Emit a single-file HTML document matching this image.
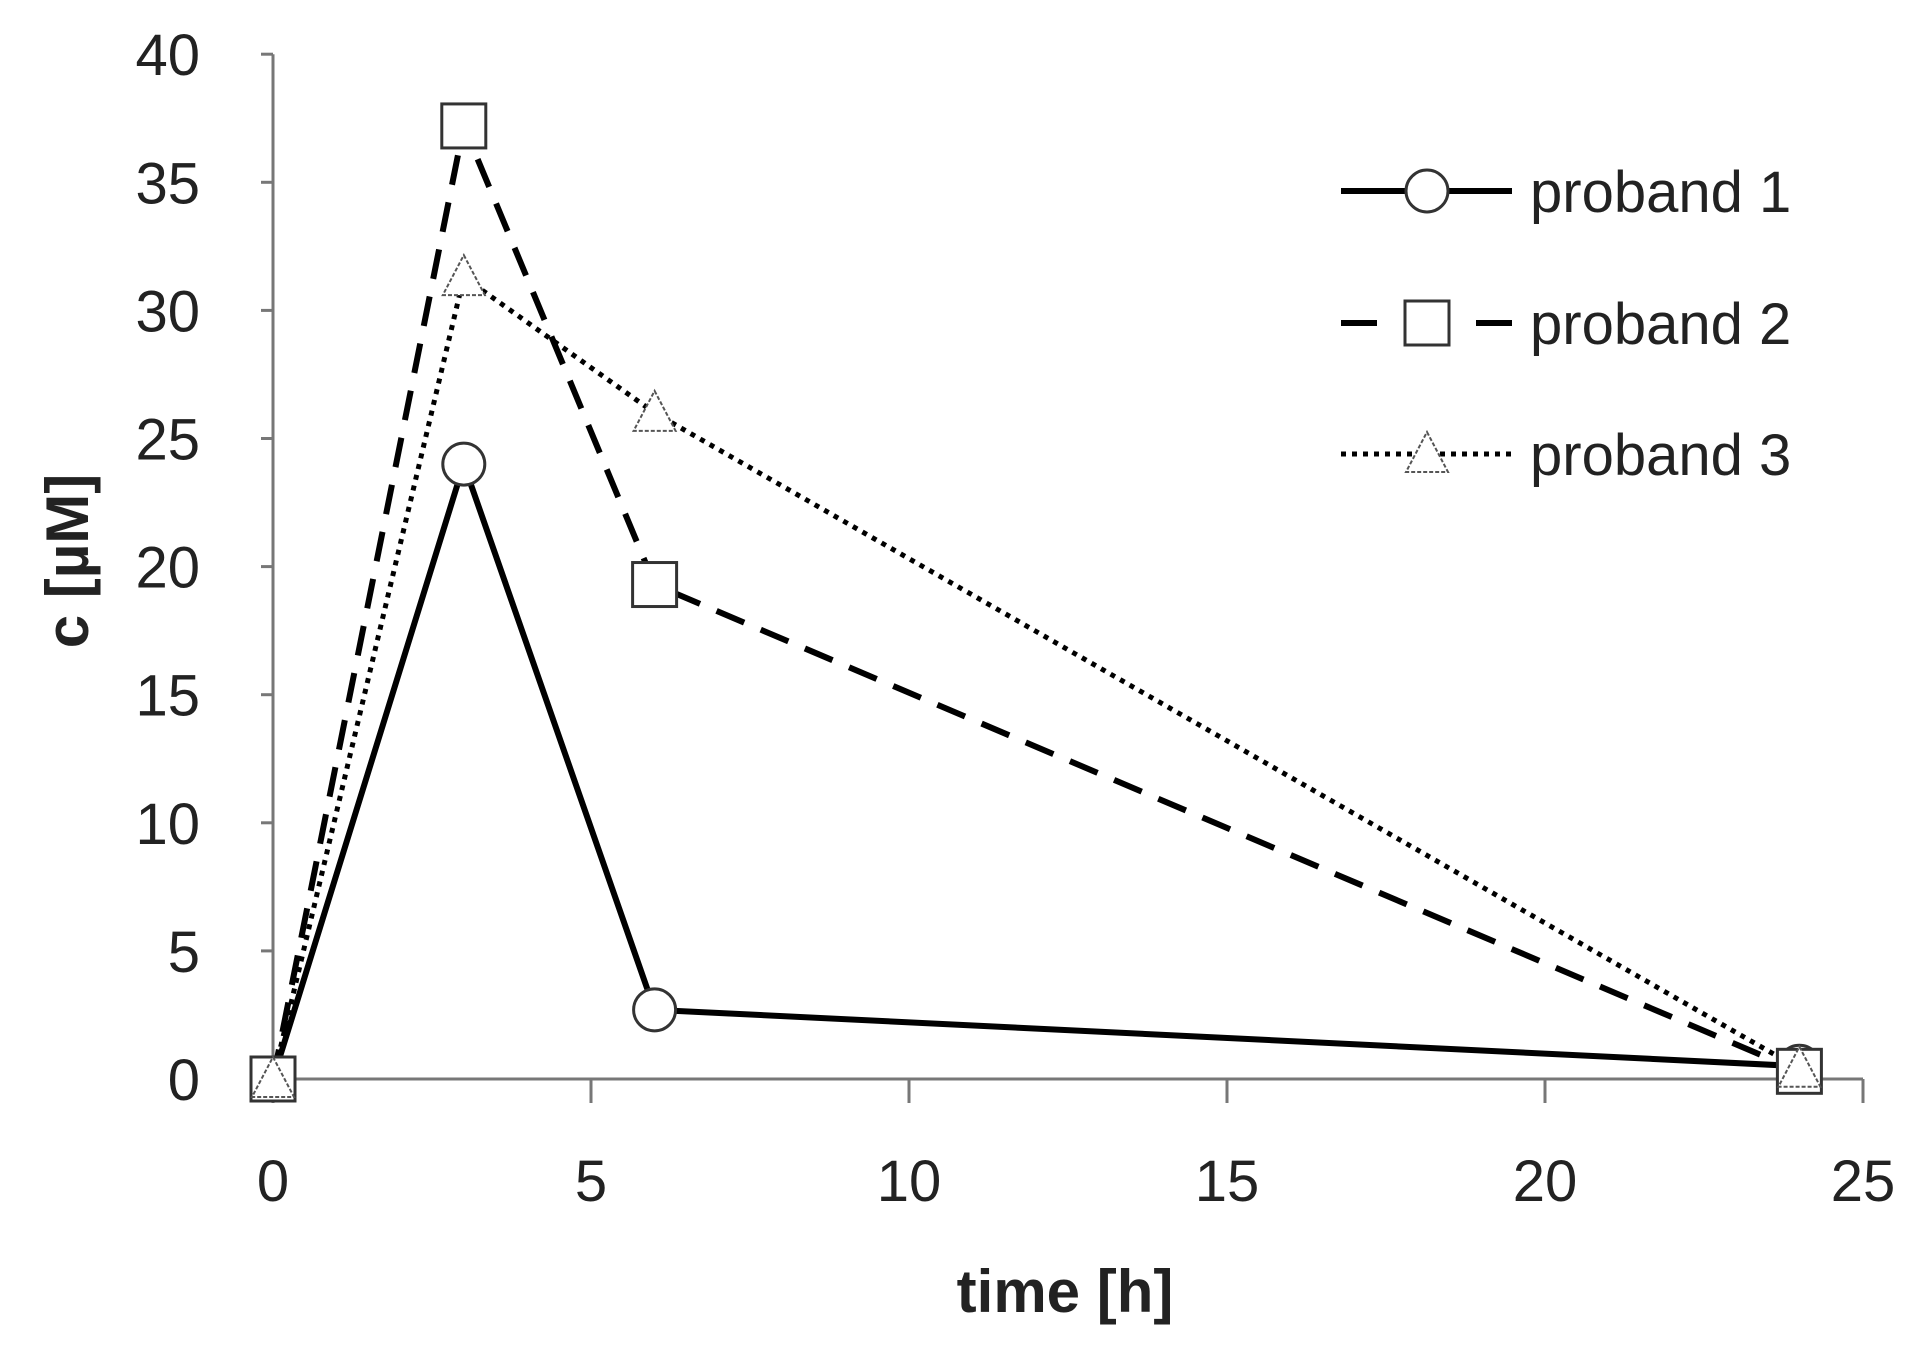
<!DOCTYPE html>
<html><head><meta charset="utf-8">
<style>
html,body{margin:0;padding:0;background:#fff;}
svg{display:block;font-family:"Liberation Sans",sans-serif;}
</style></head>
<body>
<svg id="chart" width="1912" height="1360" viewBox="0 0 1912 1360" xmlns="http://www.w3.org/2000/svg">
<g id="axes"></g>
<g id="series"></g>
<g id="legend"></g>
<text x="1065" y="1312" font-size="60" font-weight="bold" text-anchor="middle" fill="#222">time [h]</text>
<text transform="translate(88,561) rotate(-90)" font-size="60" font-weight="bold" text-anchor="middle" fill="#222">c [µM]</text>
</svg>
<script>
const times = [0, 3, 6, 24];
const proband1 = [0, 24, 2.7, 0.5];
const proband2 = [0, 37.2, 19.3, 0.3];
const proband3 = [0, 31.3, 26, 0.4];
const seriesNames = ["proband 1", "proband 2", "proband 3"];
const xTicks = [0, 5, 10, 15, 20, 25];
const yTicks = [0, 5, 10, 15, 20, 25, 30, 35, 40];

const NS = "http://www.w3.org/2000/svg";
const X0 = 273, XPX = 63.6, Y0 = 1079, YPX = 25.62;
function xs(v){ return X0 + v * XPX; }
function ys(v){ return Y0 - v * YPX; }
function mk(tag, attrs, parent){ const e = document.createElementNS(NS, tag); for (const k in attrs) e.setAttribute(k, attrs[k]); parent.appendChild(e); return e; }

const axes = document.getElementById('axes');
let a = mk('line', {x1: xs(0), y1: ys(0), x2: xs(0), y2: ys(40), stroke: '#777', 'stroke-width': 3}, axes);


a = mk('line', {x1: xs(0), y1: ys(0), x2: xs(25), y2: ys(0), stroke: '#777', 'stroke-width': 3}, axes);


yTicks.forEach(v => {
  const t = mk('line', {x1: xs(0) - 12, y1: ys(v), x2: xs(0), y2: ys(v), stroke: '#777', 'stroke-width': 3}, axes);
  
  
  const l = mk('text', {x: 200, y: ys(v) + 21, 'font-size': 58, 'text-anchor': 'end', fill: '#222'}, axes);
  l.textContent = v;
  
  
});
xTicks.forEach(v => {
  const t = mk('line', {x1: xs(v), y1: ys(0), x2: xs(v), y2: ys(0) + 24, stroke: '#777', 'stroke-width': 3}, axes);
  
  
  const l = mk('text', {x: xs(v), y: 1201, 'font-size': 58, 'text-anchor': 'middle', fill: '#222'}, axes);
  l.textContent = v;
  
  
});

const styles = [
  {dash: 'none', w: 6, marker: 'circle'},
  {dash: '30 18', w: 6, marker: 'square'},
  {dash: '5 6', w: 5, marker: 'triangle'}
];
const datasets = [proband1, proband2, proband3];
const sg = document.getElementById('series');
function marker(type, cx, cy, parent){
  let m;
  if (type === 'circle') m = mk('circle', {cx: cx, cy: cy, r: 21, fill: '#fff', stroke: '#333', 'stroke-width': 3}, parent);
  else if (type === 'square') m = mk('rect', {x: cx - 22, y: cy - 22, width: 44, height: 44, fill: '#fff', stroke: '#333', 'stroke-width': 3}, parent);
  else m = mk('polygon', {points: `${cx},${cy-22} ${cx+21},${cy+18} ${cx-21},${cy+18}`, fill: '#fff', stroke: '#555', 'stroke-width': 2, 'stroke-dasharray': '4 2'}, parent);
  return m;
}
datasets.forEach((d, i) => {
  const s = styles[i];
  const pts = d.map((v, j) => xs(times[j]) + ',' + ys(v)).join(' ');
  const pl = mk('polyline', {points: pts, fill: 'none', stroke: '#000', 'stroke-width': s.w, 'stroke-dasharray': s.dash}, sg);
  
  
});
datasets.forEach((d, i) => {
  d.forEach((v, j) => {
    const m = marker(styles[i].marker, xs(times[j]), ys(v), sg);
    
    
  });
});

const lg = document.getElementById('legend');
const legendY = [191, 323, 454];
seriesNames.forEach((n, i) => {
  const s = styles[i];
  const ln = mk('line', {x1: 1341, y1: legendY[i], x2: 1512, y2: legendY[i], stroke: '#000', 'stroke-width': s.w, 'stroke-dasharray': i === 1 ? '36 99 36' : s.dash}, lg);
  
  
  const m = marker(s.marker, 1427, legendY[i], lg);
  
  
  const t = mk('text', {x: 1530, y: legendY[i] + 21, 'font-size': 58, fill: '#222'}, lg);
  t.textContent = n;
  
  
});
</script>
</body></html>
